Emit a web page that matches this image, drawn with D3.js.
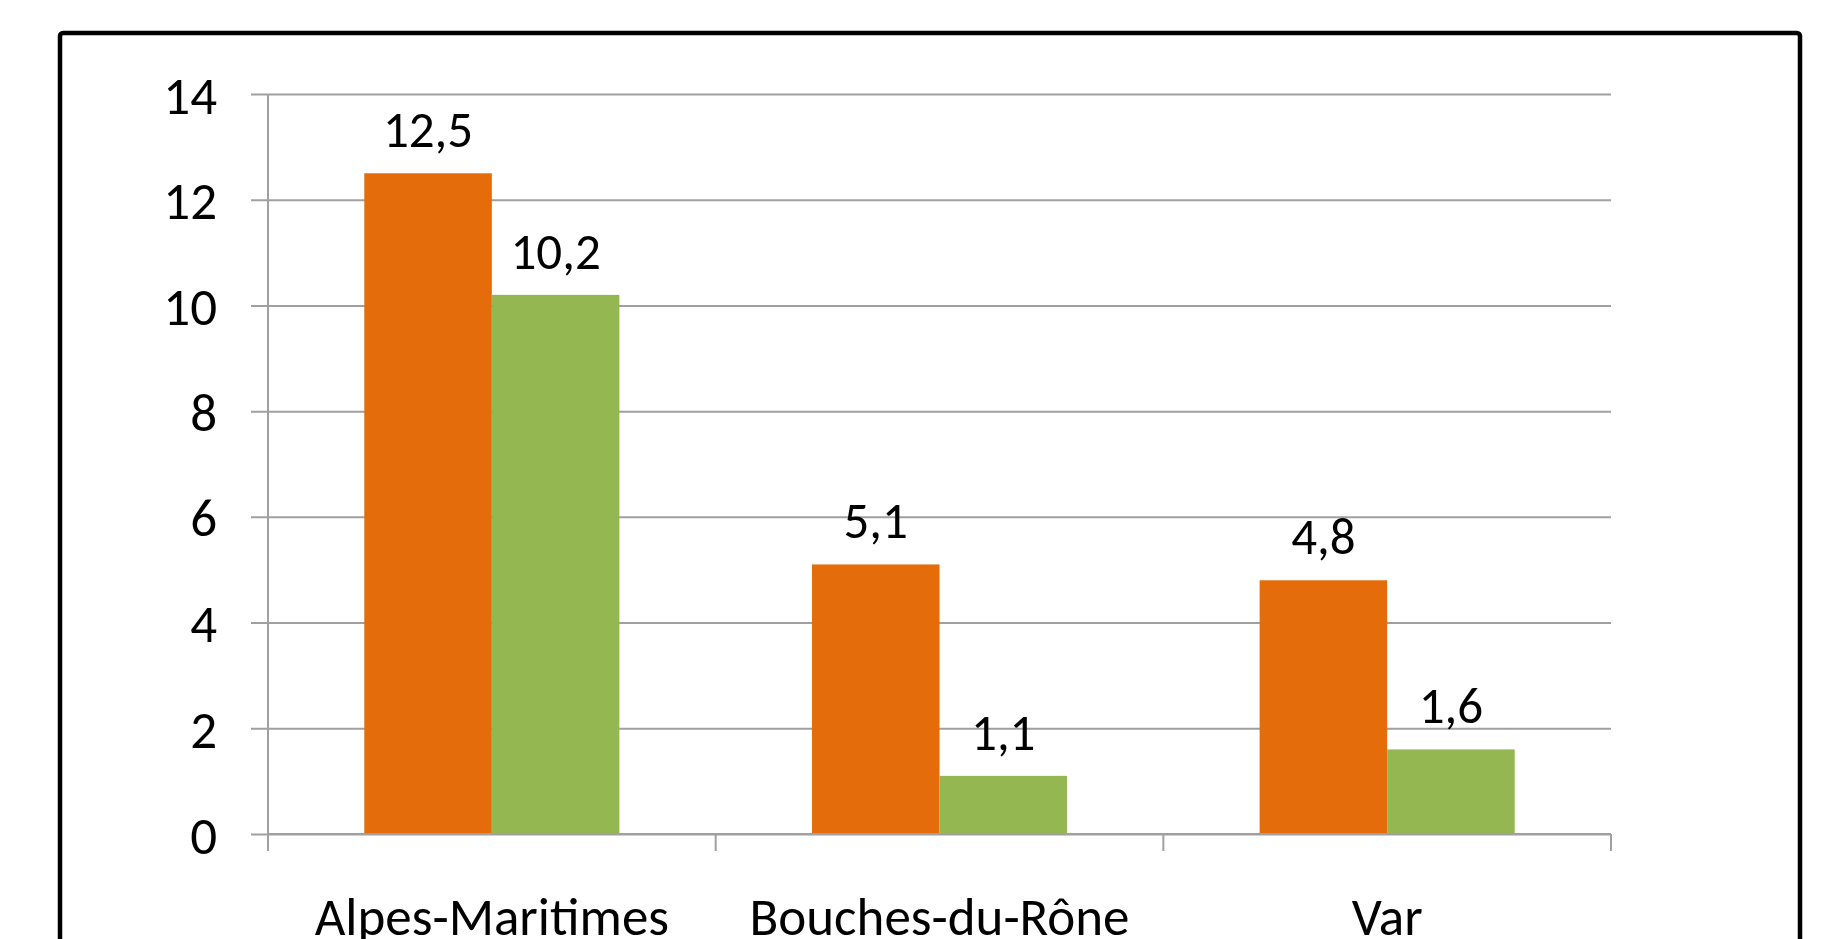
<!DOCTYPE html>
<html>
<head>
<meta charset="utf-8">
<script src="https://cdn.jsdelivr.net/npm/d3@7"></script>
<style>
  html, body { margin: 0; padding: 0; background: #fff; overflow: hidden; }
  text { font-family: Carlito, Lato, "Open Sans", sans-serif; fill: #000; }
</style>
</head>
<body>
<div id="viz"></div>
<script>
// chart values
const categories = ['Alpes-Maritimes', 'Bouches-du-Rône', 'Var'];
const seriesNames = ['Série 1', 'Série 2'];
const series1 = [12.5, 5.1, 4.8];
const series2 = [10.2, 1.1, 1.6];
const yTicks = [0, 2, 4, 6, 8, 10, 12, 14];

(() => {
  let W = 1828, H = 939;
  let plot = { left: 268, right: 1611, top: 94, bottom: 834 };

  let svg = d3.select('#viz')
    .append('svg')
    .attr('width', W)
    .attr('height', H);

  // outer frame
  svg.append('rect')
    .attr('x', 60)
    .attr('y', 33)
    .attr('width', 1740)
    .attr('height', 960)
    .attr('rx', 3)
    .style('fill', 'none')
    .style('stroke', '#000')
    .style('stroke-width', 4.5);

  let x = d3.scaleBand()
    .domain(categories)
    .range([plot.left, plot.right])
    .padding(0);

  let xs = d3.scaleBand()
    .domain(seriesNames)
    .range([0, x.bandwidth()])
    .paddingInner(0)
    .paddingOuter(0.755);

  let y = d3.scaleLinear()
    .domain([0, 14])
    .range([plot.bottom, plot.top]);

  // gridlines + y labels
  let yAxis = svg.append('g')
    .attr('transform', `translate(${plot.left},0)`)
    .call(d3.axisLeft(y)
      .tickValues(yTicks)
      .tickSizeInner(-(plot.right - plot.left))
      .tickPadding(0)
      .tickFormat(d => d));

  yAxis.select('.domain').remove();
  yAxis.selectAll('.tick line')
    .attr('x1', -17)
    .attr('x2', plot.right - plot.left)
    .style('stroke', '#a0a0a0')
    .style('stroke-width', 2);
  yAxis.selectAll('.tick text')
    .attr('x', -51)
    .attr('dy', '0.36em')
    .style('font-size', '53px')
    .style('font-family', 'Carlito, Lato, sans-serif');

  // vertical axis line
  svg.append('line')
    .attr('x1', plot.left).attr('x2', plot.left)
    .attr('y1', y(14)).attr('y2', plot.bottom + 17)
    .style('stroke', '#a0a0a0')
    .style('stroke-width', 2);

  const data = categories.map((c, i) => ({
    category: c,
    values: [
      { name: seriesNames[0], value: series1[i] },
      { name: seriesNames[1], value: series2[i] }
    ]
  }));
  const colors = d3.scaleOrdinal()
    .domain(seriesNames)
    .range(['#e46c0a', '#95b751']);

  let groups = svg.selectAll('.bar-group')
    .data(data)
    .join('g')
    .attr('class', 'bar-group')
    .attr('transform', d => `translate(${x(d.category)},0)`);

  groups.selectAll('rect')
    .data(d => d.values)
    .join('rect')
    .attr('x', d => xs(d.name))
    .attr('y', d => y(d.value))
    .attr('width', xs.bandwidth())
    .attr('height', d => y(0) - y(d.value))
    .style('fill', d => colors(d.name));

  groups.selectAll('.val')
    .data(d => d.values)
    .join('text')
    .attr('class', 'val')
    .attr('x', d => xs(d.name) + xs.bandwidth() / 2)
    .attr('y', d => y(d.value) - 26)
    .attr('text-anchor', 'middle')
    .style('font-size', '51px')
    .text(d => String(d.value).replace('.', ','));

  // x axis line + ticks
  let xAxis = svg.append('g')
    .attr('transform', `translate(0,${plot.bottom})`)
    .call(d3.axisBottom(x).tickSize(0).tickFormat(''));
  xAxis.select('.domain')
    .attr('d', `M${plot.left},0H${plot.right}`)
    .style('stroke', '#a0a0a0')
    .style('stroke-width', 2);
  xAxis.selectAll('.tick').remove();

  let bounds = x.domain().map(c => x(c)).concat([plot.right]);
  xAxis.selectAll('.sep')
    .data(bounds)
    .join('line')
    .attr('class', 'sep')
    .attr('x1', d => d).attr('x2', d => d)
    .attr('y1', 0).attr('y2', 17)
    .style('stroke', '#a0a0a0')
    .style('stroke-width', 2);

  svg.selectAll('.cat')
    .data(categories)
    .join('text')
    .attr('class', 'cat')
    .attr('x', d => x(d) + x.bandwidth() / 2)
    .attr('y', 935)
    .attr('text-anchor', 'middle')
    .style('font-size', '53px')
    .text(d => d);
})();
</script>
</body>
</html>
